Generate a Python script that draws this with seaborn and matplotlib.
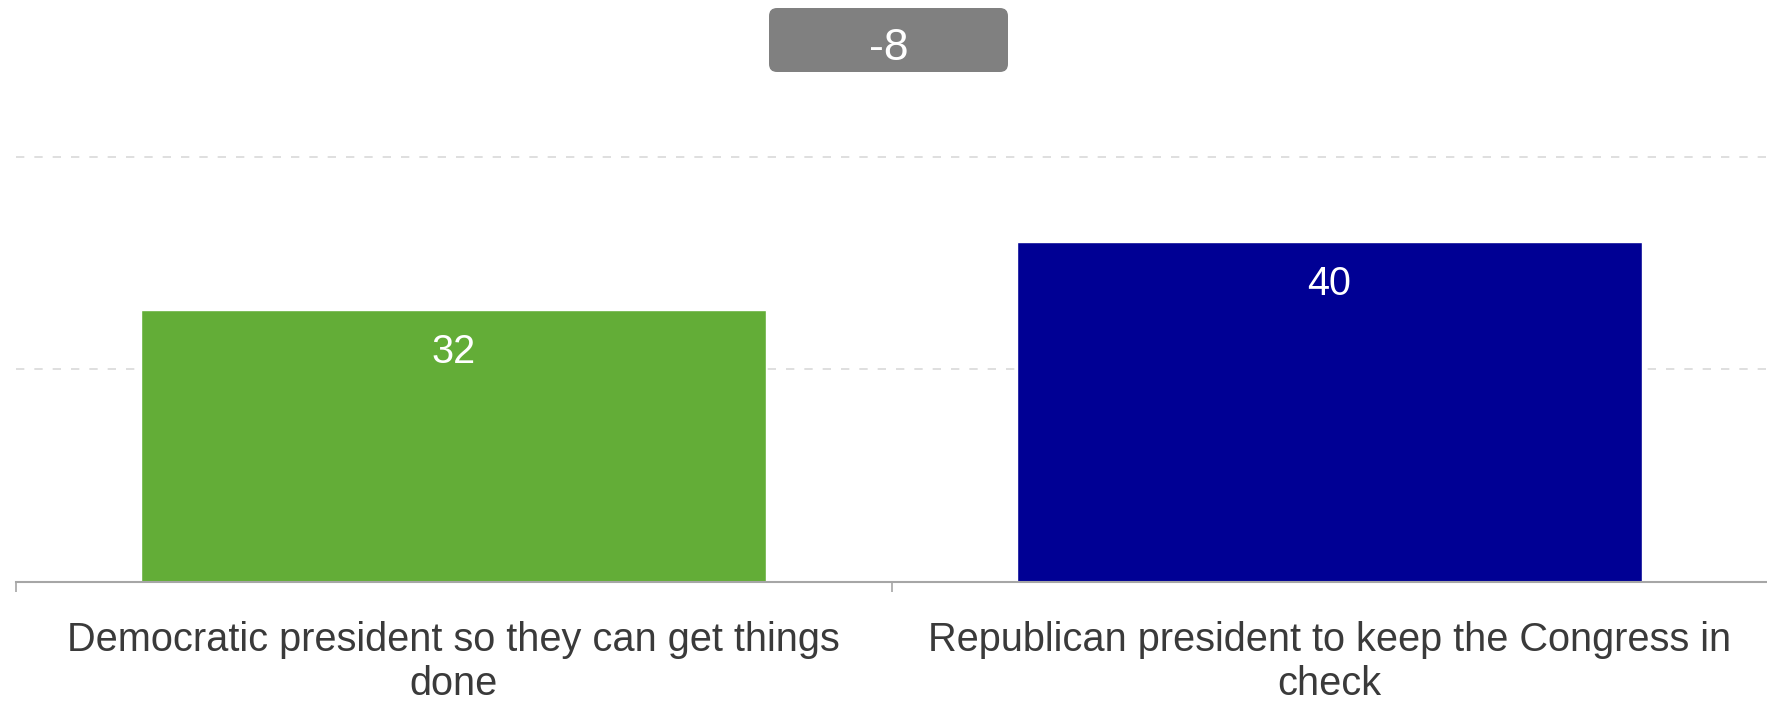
import matplotlib
matplotlib.use("Agg")
import matplotlib.pyplot as plt
import seaborn as sns
import pandas as pd
from matplotlib.patches import FancyBboxPatch
from matplotlib.ticker import FixedLocator

# data
categories = ["Democratic president so they can get things\ndone",
              "Republican president to keep the Congress in\ncheck"]
values = [32, 40]
bar_colors = ["#63ad37", "#000094"]
difference_label = "-8"

df = pd.DataFrame({"choice": categories, "pct": values})

sns.set_theme(style="white")
plt.rcParams['font.family'] = ['Liberation Sans', 'DejaVu Sans']

fig = plt.figure(figsize=(17.67, 7.04), dpi=100)
ax = fig.add_axes([16 / 1767, 1 - 582 / 704, 1 - 16 / 1767, 510 / 704])

sns.barplot(data=df, x="choice", y="pct", hue="choice", palette=bar_colors,
            width=0.714, legend=False, ax=ax, saturation=1)

ax.set_xlim(-0.5, 1.5)
ax.set_ylim(0, 60)
ax.set_xlabel("")
ax.set_ylabel("")

# gridlines
ax.set_yticks([25, 50])
ax.set_yticklabels([])
ax.tick_params(axis="y", length=0)
ax.yaxis.grid(True, color="#d9d9d9", linewidth=1.2, linestyle=(0, (5, 6)))
ax.set_axisbelow(True)

for s in ["top", "left", "right"]:
    ax.spines[s].set_visible(False)
ax.spines["bottom"].set_color("#a6a6a6")
ax.spines["bottom"].set_linewidth(1.5)

# category labels, ticks at category boundaries
ax.tick_params(axis="x", which="major", length=0, pad=28, labelsize=28.6,
               labelcolor="#3a3a3a")
for lbl in ax.get_xticklabels():
    lbl.set_linespacing(1.22)
ax.xaxis.set_minor_locator(FixedLocator([-0.5, 0.5]))
ax.tick_params(axis="x", which="minor", length=7.5, width=1.2, color="#a6a6a6",
               bottom=True)

# value labels inside bars
for p, v in zip(ax.patches, values):
    ax.annotate(str(v), (p.get_x() + p.get_width() / 2, p.get_height()),
                xytext=(0, -30), textcoords="offset points",
                ha="center", va="center", color="white", fontsize=28.5)

# difference badge
badge = FancyBboxPatch((7.69, 6.32), 2.39, 0.64,
                       boxstyle="round,pad=0,rounding_size=0.08",
                       transform=fig.dpi_scale_trans, facecolor="#808080",
                       edgecolor="none")
fig.patches.append(badge)
fig.text(888.5 / 1767, 1 - 48 / 704, difference_label, ha="center", va="center",
         color="white", fontsize=32)

fig.savefig("out.png", dpi=100)
